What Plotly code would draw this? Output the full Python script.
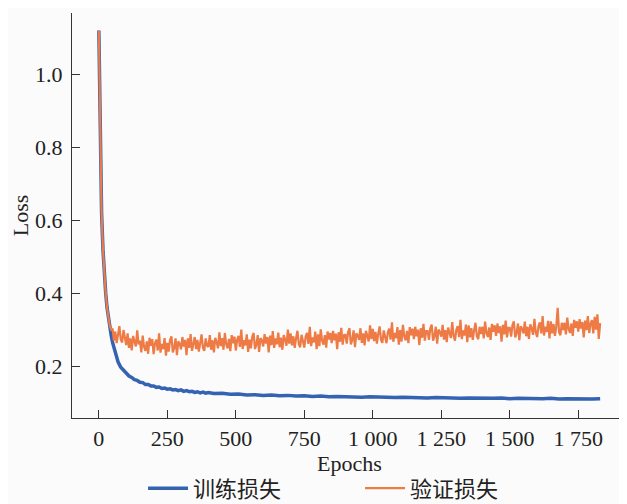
import plotly.graph_objects as go

# ---------------- data ----------------
train_early_epochs = [0, 3, 6, 10, 15, 20, 25, 30, 35, 40, 45, 50, 60, 70, 80, 90]
train_early = [1.12, 0.95, 0.78, 0.62, 0.52, 0.45, 0.40, 0.36, 0.33, 0.305, 0.285, 0.265, 0.235, 0.212, 0.197, 0.188]

train_mid_epochs = list(range(100, 401, 10))
train_mid = [0.179, 0.173, 0.169, 0.163, 0.161, 0.156, 0.155, 0.15, 0.15, 0.146,
             0.146, 0.142, 0.143, 0.139, 0.14, 0.137, 0.138, 0.135, 0.136, 0.133,
             0.135, 0.131, 0.133, 0.13, 0.131, 0.128, 0.13, 0.127, 0.129, 0.126, 0.128]

train_late_epochs = list(range(420, 1831, 30))
train_late = [0.125, 0.126, 0.123, 0.124, 0.121, 0.122, 0.12, 0.121, 0.119, 0.12,
              0.118, 0.119, 0.117, 0.118, 0.116, 0.117, 0.116, 0.117, 0.115, 0.116,
              0.115, 0.116, 0.114, 0.115, 0.114, 0.115, 0.113, 0.114, 0.113, 0.114,
              0.112, 0.113, 0.112, 0.113, 0.112, 0.113, 0.111, 0.112, 0.111, 0.112,
              0.111, 0.112, 0.11, 0.111, 0.11, 0.111, 0.11, 0.111]

val_early_epochs = [0, 3, 6, 10, 15, 20, 25, 30, 35, 40, 45]
val_early = [1.12, 0.95, 0.78, 0.62, 0.52, 0.45, 0.40, 0.36, 0.33, 0.31, 0.30]

val_late_epochs = list(range(50, 1831, 5))
val_late = [
    0.303, 0.270, 0.295, 0.263, 0.290, 0.310, 0.273, 0.265, 0.299, 0.279,
    0.258, 0.290, 0.250, 0.276, 0.243, 0.283, 0.271, 0.254, 0.298, 0.260,
    0.270, 0.238, 0.284, 0.253, 0.242, 0.268, 0.234, 0.278, 0.256, 0.274,
    0.233, 0.263, 0.273, 0.243, 0.290, 0.237, 0.261, 0.247, 0.277, 0.229,
    0.264, 0.240, 0.272, 0.282, 0.238, 0.250, 0.276, 0.230, 0.268, 0.262,
    0.246, 0.280, 0.254, 0.272, 0.230, 0.276, 0.250, 0.288, 0.242, 0.268,
    0.280, 0.247, 0.272, 0.240, 0.267, 0.287, 0.250, 0.242, 0.276, 0.256,
    0.253, 0.285, 0.245, 0.271, 0.238, 0.278, 0.266, 0.249, 0.293, 0.255,
    0.277, 0.245, 0.291, 0.260, 0.249, 0.275, 0.241, 0.285, 0.263, 0.281,
    0.243, 0.273, 0.283, 0.253, 0.300, 0.247, 0.271, 0.257, 0.287, 0.239,
    0.273, 0.249, 0.281, 0.291, 0.247, 0.259, 0.285, 0.239, 0.277, 0.271,
    0.254, 0.288, 0.262, 0.280, 0.238, 0.284, 0.258, 0.296, 0.250, 0.276,
    0.260, 0.292, 0.252, 0.278, 0.245, 0.285, 0.273, 0.256, 0.300, 0.262,
    0.290, 0.257, 0.282, 0.250, 0.277, 0.297, 0.260, 0.252, 0.286, 0.266,
    0.251, 0.281, 0.291, 0.261, 0.308, 0.255, 0.279, 0.265, 0.295, 0.247,
    0.287, 0.255, 0.301, 0.270, 0.259, 0.285, 0.251, 0.295, 0.273, 0.291,
    0.263, 0.297, 0.271, 0.289, 0.247, 0.293, 0.267, 0.305, 0.259, 0.285,
    0.286, 0.262, 0.294, 0.304, 0.260, 0.272, 0.298, 0.252, 0.290, 0.284,
    0.272, 0.304, 0.264, 0.290, 0.257, 0.297, 0.285, 0.268, 0.312, 0.274,
    0.302, 0.269, 0.294, 0.262, 0.289, 0.309, 0.272, 0.264, 0.298, 0.278,
    0.263, 0.293, 0.303, 0.273, 0.320, 0.267, 0.291, 0.277, 0.307, 0.259,
    0.299, 0.267, 0.313, 0.282, 0.271, 0.297, 0.263, 0.307, 0.285, 0.303,
    0.274, 0.308, 0.282, 0.300, 0.258, 0.304, 0.278, 0.316, 0.270, 0.296,
    0.296, 0.272, 0.304, 0.314, 0.270, 0.282, 0.308, 0.262, 0.300, 0.294,
    0.281, 0.313, 0.273, 0.299, 0.266, 0.306, 0.294, 0.277, 0.321, 0.283,
    0.270, 0.300, 0.310, 0.280, 0.327, 0.274, 0.298, 0.284, 0.314, 0.266,
    0.312, 0.279, 0.304, 0.272, 0.299, 0.319, 0.282, 0.274, 0.308, 0.288,
    0.308, 0.276, 0.322, 0.291, 0.280, 0.306, 0.272, 0.316, 0.294, 0.312,
    0.283, 0.317, 0.291, 0.309, 0.267, 0.313, 0.287, 0.325, 0.279, 0.305,
    0.305, 0.281, 0.313, 0.323, 0.279, 0.291, 0.317, 0.271, 0.309, 0.303,
    0.290, 0.322, 0.282, 0.308, 0.275, 0.315, 0.303, 0.286, 0.330, 0.292,
    0.280, 0.310, 0.320, 0.290, 0.337, 0.284, 0.308, 0.294, 0.324, 0.276,
    0.323, 0.290, 0.315, 0.283, 0.310, 0.360, 0.293, 0.285, 0.319, 0.299,
    0.319, 0.287, 0.333, 0.302, 0.291, 0.317, 0.283, 0.327, 0.305, 0.323,
    0.295, 0.329, 0.303, 0.321, 0.279, 0.325, 0.299, 0.337, 0.291, 0.317,
    0.326, 0.290, 0.335, 0.300, 0.342, 0.275, 0.318,
]

x_tickvals = [0, 250, 500, 750, 1000, 1250, 1500, 1750]
x_ticktext = ["0", "250", "500", "750", "1 000", "1 250", "1 500", "1 750"]
y_tickvals = [0.2, 0.4, 0.6, 0.8, 1.0]
y_ticktext = ["0.2", "0.4", "0.6", "0.8", "1.0"]

series_names = ["训练损失", "验证损失"]

# ---------------- figure ----------------
train_x = train_early_epochs + train_mid_epochs + train_late_epochs
train_y = train_early + train_mid + train_late
val_x = val_early_epochs + val_late_epochs
val_y = val_early + val_late

BLUE = "#3463b2"
ORANGE = "#ee7b45"
SERIF = "Liberation Serif, Times New Roman, serif"
CJK = "Noto Sans CJK SC, sans-serif"

fig = go.Figure()
fig.add_trace(go.Scatter(x=train_x, y=train_y, mode="lines", name=series_names[0],
                         line=dict(color=BLUE, width=3.5)))
fig.add_trace(go.Scatter(x=val_x, y=val_y, mode="lines", name=series_names[1],
                         line=dict(color=ORANGE, width=2.2)))

axis_common = dict(showline=True, linecolor="#333", linewidth=1.3, ticks="inside",
                   ticklen=8, tickcolor="#333", tickwidth=1.3, showgrid=False,
                   zeroline=False, automargin=False,
                   tickfont=dict(family=SERIF, size=22, color="#222"))

# the page body adds an 8 px offset, so the figure is 8 px smaller than the window
fig.update_layout(
    width=619, height=496,
    margin=dict(l=64, r=0, t=5, b=86, autoexpand=False),
    paper_bgcolor="#fbfbfb", plot_bgcolor="#fbfbfb",
    showlegend=True,
    legend=dict(orientation="h", x=0.128, y=-0.122, xanchor="left", yanchor="top",
                font=dict(family=CJK, size=22, color="#222"), itemwidth=40,
                entrywidth=162, entrywidthmode="pixels", bgcolor="rgba(0,0,0,0)",
                tracegroupgap=0),
    xaxis=dict(range=[-98, 1928], tickvals=x_tickvals, ticktext=x_ticktext,
               title=dict(text="Epochs", font=dict(family=SERIF, size=22, color="#222"), standoff=2),
               **axis_common),
    yaxis=dict(range=[0.058, 1.168], tickvals=y_tickvals, ticktext=y_ticktext,
               ticklabelstandoff=4,
               title=dict(text="Loss", font=dict(family=SERIF, size=22, color="#222"), standoff=4),
               **axis_common),
)

fig.write_html("out.html")
